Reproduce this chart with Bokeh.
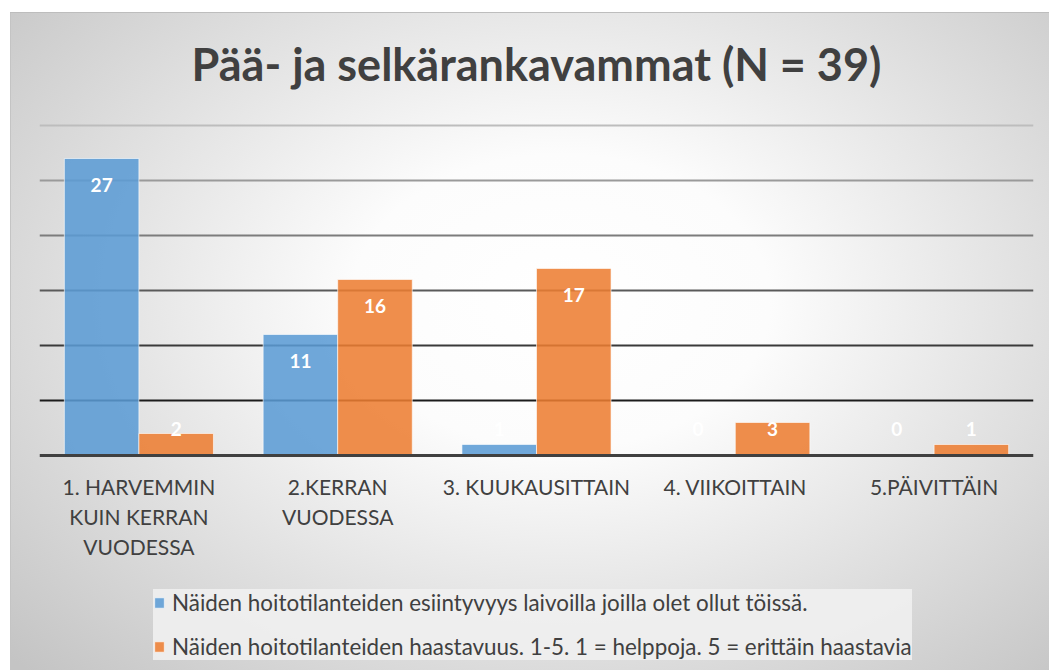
from bokeh.plotting import figure
from bokeh.models import FactorRange, Span, Legend, LegendItem, ColumnDataSource, Label
from bokeh.transform import dodge
from bokeh.core.properties import value
from bokeh.embed import file_html
from bokeh.resources import INLINE

# ---- data ----
categories = ["1. HARVEMMIN\nKUIN KERRAN\nVUODESSA", "2.KERRAN\nVUODESSA",
              "3. KUUKAUSITTAIN", "4. VIIKOITTAIN", "5.PÄIVITTÄIN"]
series_names = ["Näiden hoitotilanteiden esiintyvyys laivoilla joilla olet ollut töissä.",
                "Näiden hoitotilanteiden haastavuus. 1-5. 1 = helppoja. 5 = erittäin haastavia"]
esiintyvyys = [27, 11, 1, 0, 0]
haastavuus = [2, 16, 17, 3, 1]
y_ticks = [0, 5, 10, 15, 20, 25, 30]
title_text = "Pää- ja selkärankavammat (N = 39)"

FONT = "Lato"
TXT = "#404040"

def label_pos(vals):
    return [max(v, 4.9) - 2.45 for v in vals]

src = ColumnDataSource(dict(
    cat=categories, a=esiintyvyys, b=haastavuus,
    la=[str(v) for v in esiintyvyys], lb=[str(v) for v in haastavuus],
    ya=label_pos(esiintyvyys), yb=label_pos(haastavuus),
))

# layout (pixels): frame covers the full figure height; 11 px per value unit,
# 113 px of room above the top gridline (title), 215 px below zero (labels + legend)
W, H = 1039, 658
PX = 11.0
TOP_ROOM, BOTTOM_ROOM = 113, 215

p = figure(x_range=FactorRange(*categories, range_padding=0),
           y_range=(-BOTTOM_ROOM / PX, y_ticks[-1] + TOP_ROOM / PX),
           width=W, height=H, output_backend="svg", toolbar_location=None,
           min_border_left=29, min_border_right=16, min_border_top=0, min_border_bottom=0)
p.margin = (12, 0, 0, 10)
p.styles = {
    "background-image": "radial-gradient(ellipse 72% 80% at 53% 44%, #ffffff 0%, #fcfcfc 28%, #c4c4c4 100%)",
    "box-shadow": "inset 0 1px 0 #bdbdbd, inset 1px 0 0 #c4c4c4",
}
p.background_fill_color = None
p.border_fill_color = None
p.outline_line_color = None
p.xgrid.visible = False
p.ygrid.visible = False
p.yaxis.visible = False

# gridlines
grid_colors = ["#000000", "#1c1c1c", "#3a3a3a", "#5a5a5a", "#7c7c7c", "#9a9a9a", "#bdbdbd"]
for t, c in zip(y_ticks[1:], grid_colors[1:]):
    p.add_layout(Span(location=t, dimension="width", line_color=c, line_width=2, level="underlay"))

w = 0.375
rb = p.vbar(x=dodge("cat", -w / 2, range=p.x_range), top="a", width=w, source=src,
            fill_color="#5b9bd5", fill_alpha=0.87, line_color="#ffffff", line_alpha=0.6, line_width=1)
ro = p.vbar(x=dodge("cat", w / 2, range=p.x_range), top="b", width=w, source=src,
            fill_color="#ed7d31", fill_alpha=0.87, line_color="#ffffff", line_alpha=0.6, line_width=1)

for col, ycol, off in (("la", "ya", -w / 2), ("lb", "yb", w / 2)):
    p.text(x=dodge("cat", off, range=p.x_range), y=ycol, text=col, source=src,
           text_align="center", text_baseline="middle", text_color="white",
           text_font=value(FONT), text_font_style="bold", text_font_size="19px")

ax = p.xaxis[0]
ax.fixed_location = 0
ax.axis_line_color = "#404040"
ax.axis_line_width = 3
ax.major_tick_line_color = None
ax.minor_tick_line_color = None
ax.major_label_text_font = FONT
ax.major_label_text_font_size = "21px"
ax.major_label_text_color = TXT
ax.major_label_text_line_height = 1.2
ax.major_label_standoff = 12

frame_w = W - 29 - 16
p.add_layout(Label(x=frame_w / 2, y=H - 51, x_units="screen", y_units="screen",
                   text=title_text, text_align="center", text_baseline="alphabetic",
                   text_font=FONT, text_font_style="bold", text_font_size="45px",
                   text_color=TXT))

legend = Legend(items=[LegendItem(label=series_names[0], renderers=[rb]),
                       LegendItem(label=series_names[1], renderers=[ro])],
                location=(114, 10), orientation="vertical",
                background_fill_color="#f0f0f0", background_fill_alpha=0.9,
                border_line_color=None, padding=12, spacing=17,
                margin=0, glyph_width=12, glyph_height=13, label_height=24, label_standoff=7,
                label_text_font=FONT, label_text_font_size="22.4px", label_text_color=TXT)
legend.padding = 14
p.add_layout(legend, "center")

open("out.html", "w").write(file_html(p, INLINE))
